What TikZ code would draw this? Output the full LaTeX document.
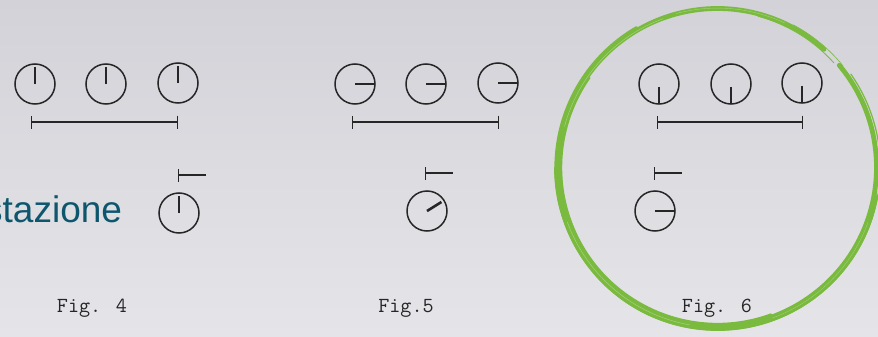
\documentclass[tikz,border=0pt]{standalone}
\usepackage{fontspec}
\setmainfont{Liberation Sans}
\usetikzlibrary{arrows.meta,calc}

\definecolor{bgtop}{RGB}{210,210,216}
\definecolor{bgbot}{RGB}{229,229,233}
\definecolor{ink}{RGB}{38,38,38}
\definecolor{wordteal}{RGB}{14,86,110}
\definecolor{brush}{RGB}{122,186,62}
\definecolor{brushlight}{RGB}{176,214,140}

\begin{document}
\begin{tikzpicture}[x=1pt,y=-1pt,
  clock/.style={circle,draw=ink,line width=1.5pt,minimum size=40pt,inner sep=0pt,outer sep=0pt},
  hand/.style={draw=ink,line width=1.5pt},
  span/.style={draw=ink,line width=1.3pt,{Bar[width=13pt,line width=1.3pt]}-{Bar[width=13pt,line width=1.3pt]}},
  offset/.style={draw=ink,line width=1.3pt,{Bar[width=13pt,line width=1.3pt]}-},
  caption/.style={font=\ttfamily\addfontfeatures{FakeBold=1.2}\fontsize{21.5}{24}\selectfont,text=ink,anchor=base,inner sep=0pt},
  stroke/.style={draw=brush,line cap=round}]

\useasboundingbox (0,0) rectangle (878,337);
\clip (0,0) rectangle (878,337);
\shade[top color=bgtop,bottom color=bgbot] (0,0) rectangle (878,337);

% word at the left edge
\node[anchor=base west,inner sep=0pt,text=wordteal,font=\fontsize{37}{40}\selectfont] (word) at (-16,222) {stazione};

% ---- Fig. 4 ----
\node[clock] (f4a) at (35,84) {};
\node[clock] (f4b) at (106,84) {};
\node[clock] (f4c) at (178,83) {};
\node[clock] (f4d) at (179,213) {};
\foreach \c in {f4a,f4b,f4c,f4d}
  \draw[hand] (\c.center) -- ($(\c.center)!0.85!(\c.north)$);
\coordinate (s4l) at (31,122);
\coordinate (s4r) at (178,122);
\draw[span] (s4l) -- (s4r);
\coordinate (t4l) at (178,175);
\coordinate (t4r) at (206,175);
\draw[offset] (t4l) -- (t4r);
\node[caption] (cap4) at (92,312) {Fig. 4};

% ---- Fig. 5 ----
\node[clock] (f5a) at (355,84) {};
\node[clock] (f5b) at (426,84) {};
\node[clock] (f5c) at (498,83) {};
\node[clock] (f5d) at (427,211) {};
\foreach \c in {f5a,f5b,f5c}
  \draw[hand] (\c.center) -- (\c.east);
\draw[hand,line width=2.6pt] (f5d.center) -- ($(f5d.center)!0.85!(f5d.32)$);
\coordinate (s5l) at (352,122);
\coordinate (s5r) at (499,122);
\draw[span] (s5l) -- (s5r);
\coordinate (t5l) at (425,173);
\coordinate (t5r) at (453,173);
\draw[offset] (t5l) -- (t5r);
\node[caption] (cap5) at (406,312) {Fig.5};

% ---- Fig. 6 ----
\node[clock] (f6a) at (659,84) {};
\node[clock] (f6b) at (731,84) {};
\node[clock] (f6c) at (802,83) {};
\node[clock] (f6d) at (655,211) {};
\foreach \c in {f6a,f6b,f6c}
  \draw[hand] ($(\c.center)+(0,3)$) -- (\c.south);
\draw[hand] (f6d.center) -- (f6d.east);
\coordinate (s6l) at (657,122);
\coordinate (s6r) at (803,122);
\draw[span] (s6l) -- (s6r);
\coordinate (t6l) at (654,173);
\coordinate (t6r) at (682,173);
\draw[offset] (t6l) -- (t6r);
\node[caption] (cap6) at (717,312) {Fig. 6};

% ---- brush ring around Fig. 6 ----
\coordinate (ring) at (717.5,167.5);
\draw[stroke,line width=4.8pt] (ring) ++(-40:159) arc[start angle=-40,end angle=312,radius=159];
\draw[stroke,line width=2.6pt] (ring) ++(10:161.8) arc[start angle=10,end angle=240,radius=161.8];
\draw[stroke,line width=2.2pt] (ring) ++(70:156.4) arc[start angle=70,end angle=215,radius=156.4];
\draw[stroke,line width=1.2pt] (ring) ++(-35:162.8) arc[start angle=-35,end angle=180,radius=162.8];
\draw[stroke,line width=0.8pt] (ring) ++(285:156.5) arc[start angle=285,end angle=318,radius=156.5];
\draw[stroke,line width=0.6pt] (ring) ++(298:161.5) arc[start angle=298,end angle=321,radius=161.5];
% lighter streaks inside the stroke
\draw[brushlight,line width=0.5pt,opacity=0.8] (ring) ++(100:159.8) arc[start angle=100,end angle=160,radius=159.8];
\draw[brushlight,line width=0.5pt,opacity=0.8] (ring) ++(195:158.4) arc[start angle=195,end angle=250,radius=158.4];
\draw[brushlight,line width=0.4pt,opacity=0.8] (ring) ++(255:159.4) arc[start angle=255,end angle=295,radius=159.4];
\draw[brushlight,line width=0.4pt,opacity=0.7] (ring) ++(20:160.2) arc[start angle=20,end angle=70,radius=160.2];
\end{tikzpicture}
\end{document}
